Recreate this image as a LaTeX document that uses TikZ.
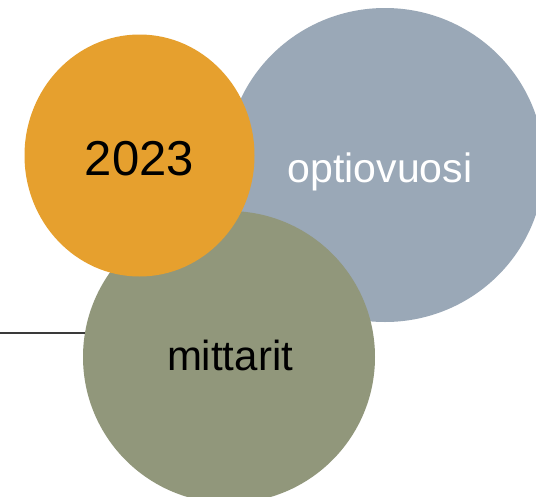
\documentclass[tikz,border=0pt]{standalone}
\usepackage{fontspec}
\setmainfont{Liberation Sans}
\usetikzlibrary{shapes.geometric}
\definecolor{cgrey}{HTML}{9AA8B7}
\definecolor{corange}{HTML}{E6A02E}
\definecolor{cgreen}{HTML}{91977B}
\definecolor{cline}{HTML}{3A3A3A}
\tikzset{
  blob/.style={ellipse, inner sep=0pt, draw=none},
  lbl/.style={anchor=base, inner sep=0pt},
}
\begin{document}
\begin{tikzpicture}[x=1pt,y=-1pt]
\useasboundingbox (0,0) rectangle (536,496);
\clip (0,0) rectangle (536,496);
\fill[white] (0,0) rectangle (536,496);
\node[blob, fill=cgrey, minimum width=318pt, minimum height=314pt] (grey) at (385,165) {};
\node[blob, fill=cgreen, minimum width=292pt, minimum height=292pt] (green) at (229,357) {};
\node[blob, fill=corange, minimum width=230pt, minimum height=242pt] (orange) at (139.5,155.5) {};
\coordinate (lstart) at (0,332.7);
\draw[cline, line width=1.7pt] (lstart) -- ([xshift=2.5pt]lstart -| green.west);
\node[lbl, font=\fontsize{49}{55}\selectfont, text=black] (t2023) at (139.5,175) {2023};
\node[lbl, font=\fontsize{41}{48}\selectfont, text=white] (topt) at (380,182.7) {optiovuosi};
\node[lbl, font=\fontsize{42}{48}\selectfont, text=black] (tmit) at (230,370) {mittarit};
\end{tikzpicture}
\end{document}
